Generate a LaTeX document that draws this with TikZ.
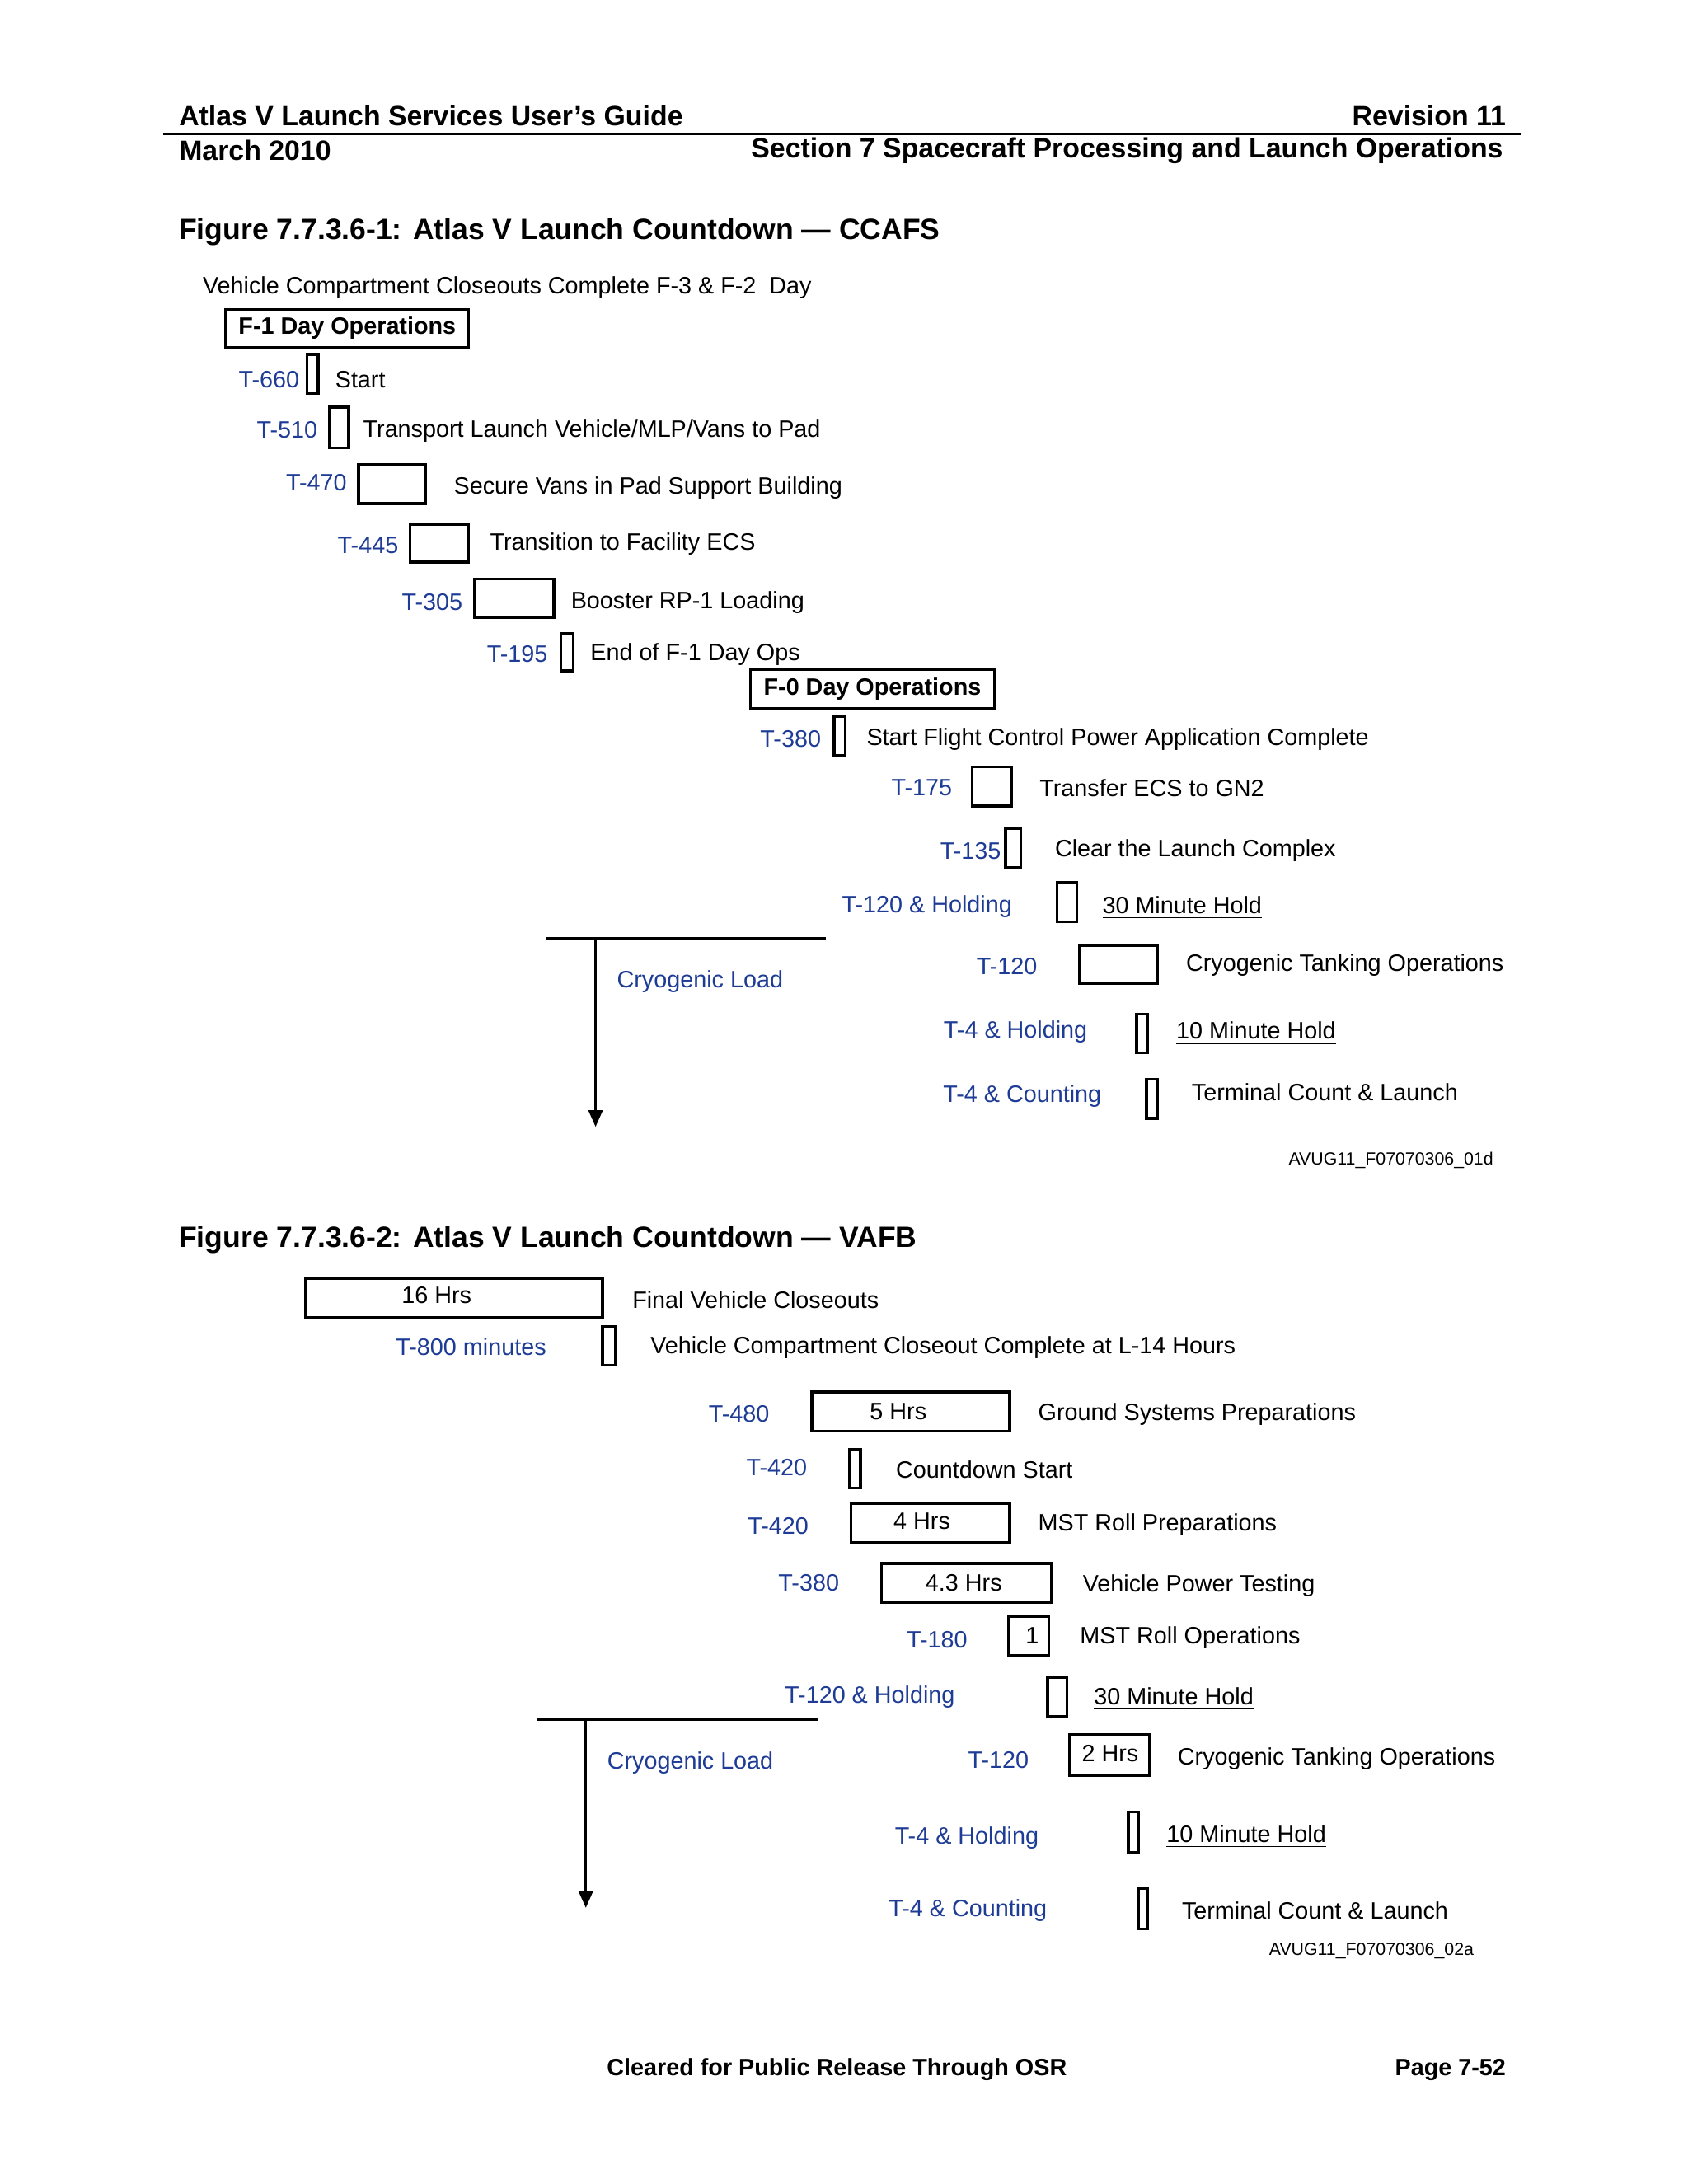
\documentclass[tikz,border=0pt]{standalone}
\usepackage{fontspec}
\setmainfont{Liberation Sans}
\usetikzlibrary{arrows.meta}
\definecolor{tblue}{RGB}{30,60,150}
\tikzset{
  box/.style={draw,line width=1pt,inner sep=0pt,font=\fontsize{8.5}{10}\selectfont},
  lbl/.style={inner sep=0pt,font=\fontsize{8.5}{10}\selectfont,text=tblue,anchor=east},
  txt/.style={inner sep=0pt,font=\fontsize{8.5}{10}\selectfont,anchor=west},
  hdr/.style={inner sep=0pt,font=\fontsize{10}{12}\selectfont\bfseries},
  ttl/.style={inner sep=0pt,font=\fontsize{10.5}{12}\selectfont\bfseries,anchor=west},
  idt/.style={inner sep=0pt,font=\fontsize{6.3}{8}\selectfont,anchor=east},
  cl/.style={line width=1pt},
}
\newcommand{\bx}[7][]{\node[box,minimum width={(#4-#2)*0.5pt},minimum height={(#5-#3)*0.5pt},#1] (#6) at ({(#2+#4)/2},{(#3+#5)/2}) {#7};}
\begin{document}
\begin{tikzpicture}[x=0.5pt,y=-0.5pt]
\useasboundingbox (0,0) rectangle (1210,1566);
\fill[white] (0,0) rectangle (1210,1566);
% header
\node[hdr,anchor=west] (h1) at (128,83) {Atlas V Launch Services User’s Guide};
\node[hdr,anchor=east] (h2) at (1080,83) {Revision 11};
\node[hdr,anchor=west] (h3) at (128,108) {March 2010};
\node[hdr,anchor=east] (h4) at (1078,108) {Section 7 Spacecraft Processing and Launch Operations};
\draw[line width=0.8pt] (117,96) -- (1090,96);
% figure 1
\node[ttl] (t1) at (128,166) {Figure 7.7.3.6-1: Atlas V Launch Countdown — CCAFS};
\node[txt] (v1) at (145,206) {Vehicle Compartment Closeouts Complete F-3 \& F-2\ \ Day};
\bx[font=\fontsize{8.5}{10}\selectfont\bfseries]{162}{222}{336}{249}{f1}{F-1 Day Operations}
\node[lbl] (l1) at (215,272) {T-660}; \bx{220}{254}{228}{282}{b1}{} \node[txt] (x1) at (240,272) {Start};
\node[lbl] (l2) at (228,308) {T-510}; \bx{236}{292}{250}{321}{b2}{} \node[txt] (x2) at (260,309) {Transport Launch Vehicle/MLP/Vans to Pad};
\node[lbl] (l3) at (249,346) {T-470}; \bx{257}{333}{305}{361}{b3}{} \node[txt] (x3) at (325,350) {Secure Vans in Pad Support Building};
\node[lbl] (l4) at (286,391) {T-445}; \bx{294}{376}{336}{403}{b4}{} \node[txt] (x4) at (351,390) {Transition to Facility ECS};
\node[lbl] (l5) at (332,432) {T-305}; \bx{340}{415}{397}{443}{b5}{} \node[txt] (x5) at (409,432) {Booster RP-1 Loading};
\node[lbl] (l6) at (393,469) {T-195}; \bx{402}{454}{411}{481}{b6}{} \node[txt] (x6) at (423,469) {End of F-1 Day Ops};
\bx[font=\fontsize{8.5}{10}\selectfont\bfseries]{538}{480}{713}{508}{f0}{F-0 Day Operations}
\node[lbl] (l7) at (589,530) {T-380}; \bx{598}{514}{606}{542}{b7}{} \node[txt] (x7) at (621,530) {Start Flight Control Power Application Complete};
\node[lbl] (l8) at (683,565) {T-175}; \bx{697}{550}{725}{578}{b8}{} \node[txt] (x8) at (745,565) {Transfer ECS to GN2};
\node[lbl] (l9) at (718,610) {T-135}; \bx{721}{594}{732}{622}{b9}{} \node[txt] (x9) at (756,610) {Clear the Launch Complex};
\node[lbl] (l10) at (726,650) {T-120 \& Holding}; \bx{758}{633}{772}{661}{b10}{} \node[txt] (x10) at (790,651) {\underline{30 Minute Hold}};
\node[lbl] (l11) at (744,693) {T-120}; \bx{774}{678}{830}{705}{b11}{} \node[txt] (x11) at (850,692) {Cryogenic Tanking Operations};
\node[lbl] (l12) at (780,740) {T-4 \& Holding}; \bx{815}{727}{823}{755}{b12}{} \node[txt] (x12) at (843,741) {\underline{10 Minute Hold}};
\node[lbl] (l13) at (790,786) {T-4 \& Counting}; \bx{822}{774}{830}{802}{b13}{} \node[txt] (x13) at (854,783) {Terminal Count \& Launch};
\coordinate (ha) at (392,673); \coordinate (hb) at (592,673);
\coordinate (va) at (427,673); \coordinate (vb) at (427,808);
\draw[cl] (ha) -- (hb);
\draw[cl,-{Triangle[length=6pt,width=5pt]}] (va) -- (vb);
\node[lbl,anchor=west] (c1) at (442,704) {Cryogenic Load};
\node[idt] (id1) at (1071,832) {AVUG11\_F07070306\_01d};
% figure 2
\node[ttl] (t2) at (128,889) {Figure 7.7.3.6-2: Atlas V Launch Countdown — VAFB};
\bx{219}{917}{432}{945}{p1}{} \node[inner sep=0pt,font=\fontsize{8.5}{10}\selectfont] (p1t) at (313,929) {16 Hrs};
\node[txt] (y1) at (453,932) {Final Vehicle Closeouts};
\node[lbl] (m2) at (392,966) {T-800 minutes}; \bx{432}{951}{441}{979}{p2}{} \node[txt] (y2) at (466,966) {Vehicle Compartment Closeout Complete at L-14 Hours};
\node[lbl] (m3) at (552,1014) {T-480}; \bx{582}{998}{724}{1026}{p3}{} \node[inner sep=0pt,font=\fontsize{8.5}{10}\selectfont] (p3t) at (644,1012) {5 Hrs}; \node[txt] (y3) at (744,1014) {Ground Systems Preparations};
\node[lbl] (m4) at (579,1052) {T-420}; \bx{609}{1039}{617}{1067}{p4}{} \node[txt] (y4) at (642,1054) {Countdown Start};
\node[lbl] (m5) at (580,1094) {T-420}; \bx{610}{1078}{724}{1106}{p5}{} \node[inner sep=0pt,font=\fontsize{8.5}{10}\selectfont] (p5t) at (661,1091) {4 Hrs}; \node[txt] (y5) at (744,1093) {MST Roll Preparations};
\node[lbl] (m6) at (602,1135) {T-380}; \bx{632}{1121}{754}{1149}{p6}{} \node[inner sep=0pt,font=\fontsize{8.5}{10}\selectfont] (p6t) at (691,1135) {4.3 Hrs}; \node[txt] (y6) at (776,1137) {Vehicle Power Testing};
\node[lbl] (m7) at (694,1176) {T-180}; \bx{723}{1159}{752}{1187}{p7}{} \node[inner sep=0pt,font=\fontsize{8.5}{10}\selectfont] (p7t) at (740,1173) {1}; \node[txt] (y7) at (774,1174) {MST Roll Operations};
\node[lbl] (m8) at (685,1217) {T-120 \& Holding}; \bx{751}{1203}{765}{1231}{p8}{} \node[txt] (y8) at (784,1218) {\underline{30 Minute Hold}};
\node[lbl] (m9) at (738,1262) {T-120}; \bx{767}{1244}{824}{1273}{p9}{} \node[inner sep=0pt,font=\fontsize{8.5}{10}\selectfont] (p9t) at (796,1257) {2 Hrs}; \node[txt] (y9) at (844,1261) {Cryogenic Tanking Operations};
\node[lbl] (m10) at (745,1318) {T-4 \& Holding}; \bx{809}{1299}{816}{1328}{p10}{} \node[txt] (y10) at (836,1317) {\underline{10 Minute Hold}};
\node[lbl] (m11) at (751,1370) {T-4 \& Counting}; \bx{816}{1354}{823}{1383}{p11}{} \node[txt] (y11) at (847,1370) {Terminal Count \& Launch};
\coordinate (ga) at (385,1233); \coordinate (gb) at (586,1233);
\coordinate (wa) at (420,1233); \coordinate (wb) at (420,1368);
\draw[cl] (ga) -- (gb);
\draw[cl,-{Triangle[length=6pt,width=5pt]}] (wa) -- (wb);
\node[lbl,anchor=west] (c2) at (435,1264) {Cryogenic Load};
\node[idt] (id2) at (1057,1399) {AVUG11\_F07070306\_02a};
% footer
\node[hdr,font=\fontsize{8.5}{10}\selectfont\bfseries] (ft1) at (600,1484) {Cleared for Public Release Through OSR};
\node[hdr,anchor=east,font=\fontsize{8.5}{10}\selectfont\bfseries] (ft2) at (1080,1484) {Page 7-52};
\end{tikzpicture}
\end{document}
